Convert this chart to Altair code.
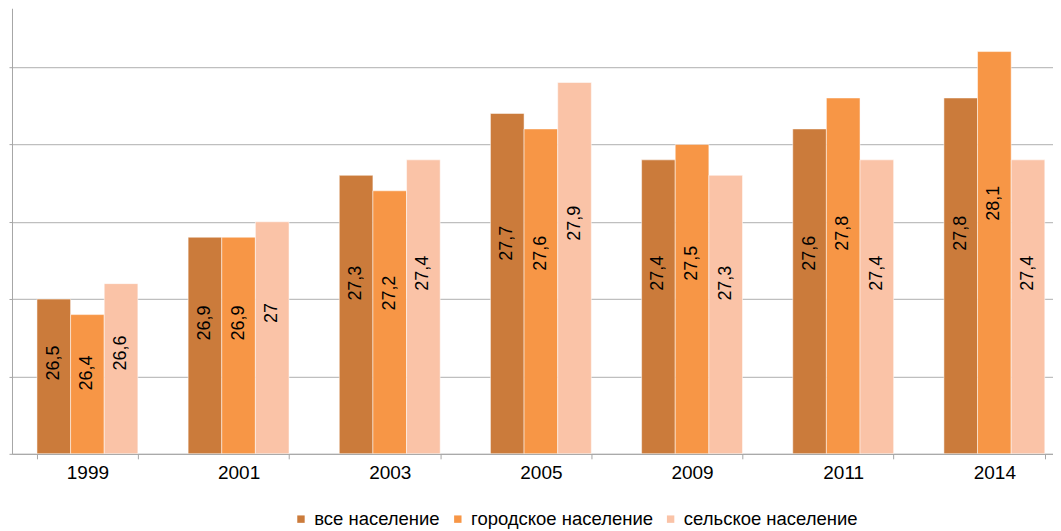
import altair as alt
import pandas as pd

years = ["1999", "2001", "2003", "2005", "2009", "2011", "2014"]
series = ["все население", "городское население", "сельское население"]
all_pop = [26.5, 26.9, 27.3, 27.7, 27.4, 27.6, 27.8]
urban = [26.4, 26.9, 27.2, 27.6, 27.5, 27.8, 28.1]
rural = [26.6, 27.0, 27.4, 27.9, 27.3, 27.4, 27.4]
colors = ["#CB7B3B", "#F79646", "#FAC3A7"]

rows = []
for name, vals in zip(series, [all_pop, urban, rural]):
    for y, v in zip(years, vals):
        rows.append({"year": y, "series": name, "value": v})
df = pd.DataFrame(rows)

FONT = "Liberation Sans"
YMIN, YMAX = 25.5, 28.38
yscale = alt.Scale(domain=[YMIN, YMAX], zero=False, nice=False)

base = alt.Chart(df).encode(
    x=alt.X("year:N", sort=years, title=None,
            scale=alt.Scale(paddingInner=0.3325, paddingOuter=0.1097, align=0.753),
            axis=alt.Axis(labelAngle=0, labelFontSize=19, labelColor="#000000",
                          labelFont=FONT, domainColor="#A6A6A6", tickColor="#A6A6A6",
                          tickBand="extent", tickSize=5, labelPadding=5, grid=False)),
    xOffset=alt.XOffset("series:N", sort=series),
)

bars = base.mark_bar(stroke="#ffffff", strokeOpacity=0.5, strokeWidth=1, clip=True).encode(
    y=alt.Y("value:Q", title=None, scale=yscale,
            axis=alt.Axis(labels=False, values=[25.5, 26, 26.5, 27, 27.5, 28],
                          grid=True, gridColor="#BFBFBF", gridWidth=1.2,
                          domainColor="#A6A6A6", tickColor="#A6A6A6", tickSize=3)),
    y2=alt.datum(YMIN),
    color=alt.Color("series:N", sort=series,
                    scale=alt.Scale(domain=series, range=colors),
                    legend=alt.Legend(orient="none", legendX=280, legendY=502,
                                      direction="horizontal", title=None,
                                      symbolType="square", symbolSize=55,
                                      labelFontSize=18.5, labelFont=FONT, labelLimit=400,
                                      labelColor="#000000", columnPadding=8,
                                      labelOffset=4, symbolStrokeWidth=0)),
)

labels = base.mark_text(angle=270, fontSize=18, font=FONT, color="#000000",
                        align="center", baseline="middle").transform_calculate(
    lab="replace(toString(datum.value), '.', ',')",
    pos="25.5 + (100*datum.value - 2559)/155",
).encode(
    y=alt.Y("pos:Q", scale=yscale),
    text="lab:N",
)

chart = (bars + labels).properties(
    width=1042, height=446, padding={"left": 0, "top": 0, "right": 0, "bottom": 0}
).configure_view(stroke=None)

chart.save("out.html", embed_options={"renderer": "svg", "actions": False})
